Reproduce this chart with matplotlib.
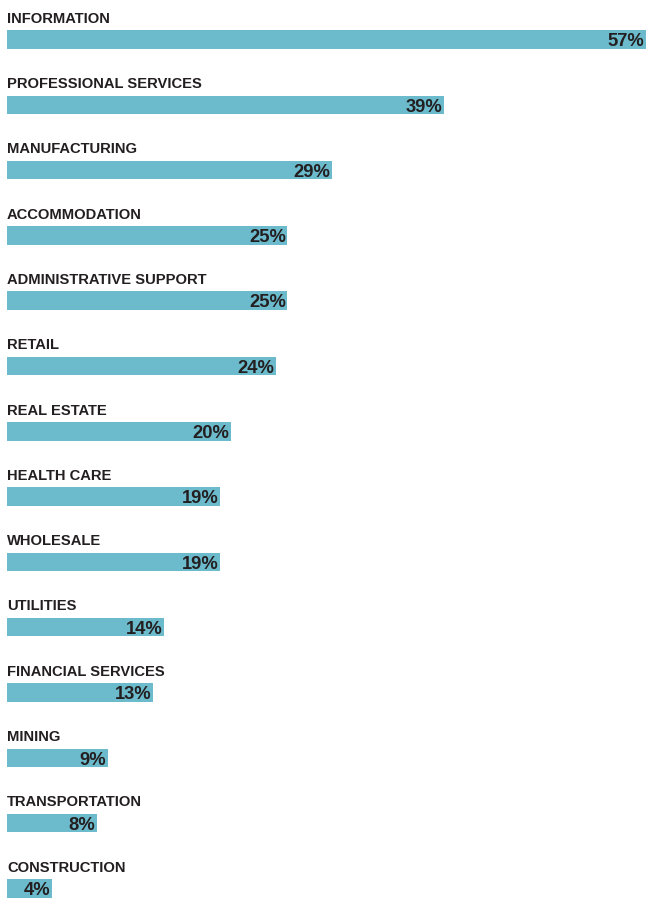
import matplotlib
matplotlib.use("Agg")
import matplotlib.pyplot as plt

# Данные: отрасли и доли в процентах
categories = ["INFORMATION", "PROFESSIONAL SERVICES", "MANUFACTURING",
              "ACCOMMODATION", "ADMINISTRATIVE SUPPORT", "RETAIL",
              "REAL ESTATE", "HEALTH CARE", "WHOLESALE", "UTILITIES",
              "FINANCIAL SERVICES", "MINING", "TRANSPORTATION", "CONSTRUCTION"]
values = [57, 39, 29, 25, 25, 24, 20, 19, 19, 14, 13, 9, 8, 4]
value_labels = [f"{v}%" for v in values]

plt.rcParams['font.family'] = ['Liberation Sans', 'DejaVu Sans']

W, H = 655, 917
fig = plt.figure(figsize=(W / 100, H / 100), dpi=100)
step = 65.3          # px between bars
first = 39.5         # px centre of the first bar
ax = fig.add_axes([7 / W, 0, 639 / W, 1])
ax.set_xlim(0, 57)
ax.set_ylim((H - first) / step, -first / step)
ax.axis('off')

bar_h = 18.5 / step
pos = list(range(len(categories)))
ax.barh(pos, values, height=bar_h, color='#6cbbcd', linewidth=0)

for i, (cat, v, lab) in enumerate(zip(categories, values, value_labels)):
    ax.text(0, i - bar_h / 2 - 7.5 / step, cat, ha='left', va='baseline',
            fontsize=10.6, fontweight='bold', color='#231f20')
    ax.text(v - 57 * 1.5 / 639, i + bar_h / 2 - 2.5 / step, lab, ha='right',
            va='baseline', fontsize=13.2, fontweight='bold', color='#231f20')

fig.savefig("out.png", dpi=100)
